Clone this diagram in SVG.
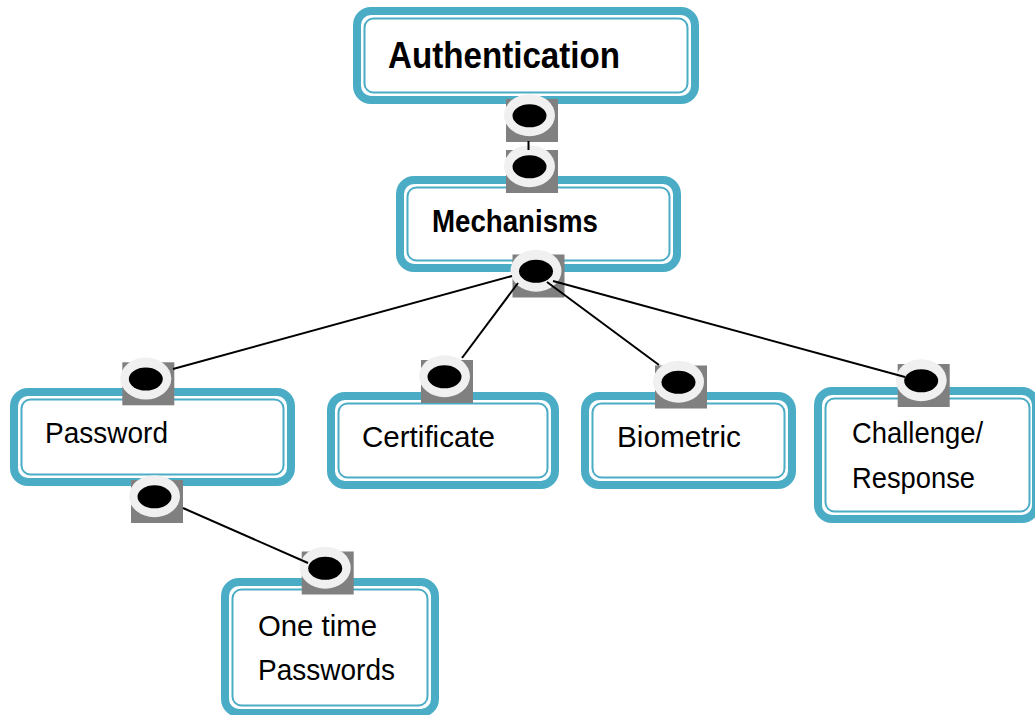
<svg xmlns="http://www.w3.org/2000/svg" width="1035" height="715" viewBox="0 0 1035 715">
  <style>
    .frame { fill: #ffffff; stroke: #4bacc6; stroke-width: 8; }
    .rule { fill: none; stroke: #4bacc6; stroke-width: 2; }
    .title { font-family: "Liberation Sans", Arial, sans-serif; font-weight: bold; fill: #000000; }
    .label { font-family: "Liberation Sans", Arial, sans-serif; font-size: 29px; fill: #000000; }
    .link { stroke: #000000; stroke-width: 2; fill: none; }
  </style>
  <defs>
    <!-- port: grey square with a ringed black dot -->
    <g id="port">
      <rect x="0" y="0" width="52" height="43" fill="#808080"/>
      <ellipse cx="23.5" cy="16.2" rx="25.5" ry="21" fill="#f0f0f0"/>
      <ellipse cx="23.5" cy="16.8" rx="17" ry="11.5" fill="#000000"/>
    </g>
  </defs>

  <rect width="1035" height="715" fill="#ffffff"/>

  <g id="authentication">
    <rect class="frame" x="357" y="11" width="338" height="89" rx="14"/>
    <rect class="rule" x="364.5" y="18.5" width="323" height="74" rx="9"/>
    <text class="title" x="388" y="68" font-size="36" textLength="232" lengthAdjust="spacingAndGlyphs">Authentication</text>
    <use href="#port" x="506" y="99"/>
  </g>

  <g id="mechanisms">
    <rect class="frame" x="400" y="180" width="277" height="88" rx="14"/>
    <rect class="rule" x="407.5" y="187.5" width="262" height="73" rx="9"/>
    <text class="title" x="432" y="232" font-size="31" textLength="166" lengthAdjust="spacingAndGlyphs">Mechanisms</text>
    <use href="#port" x="506" y="150"/>
    <use href="#port" x="512.5" y="254.5"/>
  </g>

  <g id="password">
    <rect class="frame" x="14" y="392" width="277" height="90" rx="14"/>
    <rect class="rule" x="21.5" y="399.5" width="262" height="75" rx="9"/>
    <text class="label" x="45" y="443" textLength="123" lengthAdjust="spacingAndGlyphs">Password</text>
    <use href="#port" x="122.3" y="362.3"/>
    <use href="#port" x="131" y="480"/>
  </g>

  <g id="certificate">
    <rect class="frame" x="331" y="396" width="224" height="89" rx="14"/>
    <rect class="rule" x="338.5" y="403.5" width="209" height="74" rx="9"/>
    <text class="label" x="362" y="447" textLength="133" lengthAdjust="spacingAndGlyphs">Certificate</text>
    <use href="#port" x="421" y="360"/>
  </g>

  <g id="biometric">
    <rect class="frame" x="585" y="396" width="207" height="89" rx="14"/>
    <rect class="rule" x="592.5" y="403.5" width="192" height="74" rx="9"/>
    <text class="label" x="617" y="447" textLength="124" lengthAdjust="spacingAndGlyphs">Biometric</text>
    <use href="#port" x="655" y="365.5"/>
  </g>

  <g id="challenge-response">
    <rect class="frame" x="818" y="391" width="218" height="128" rx="14"/>
    <rect class="rule" x="825.5" y="398.5" width="204" height="113" rx="9"/>
    <text class="label" x="852" y="443" textLength="131" lengthAdjust="spacingAndGlyphs">Challenge/</text>
    <text class="label" x="852" y="488" textLength="123" lengthAdjust="spacingAndGlyphs">Response</text>
    <use href="#port" x="897.7" y="364"/>
  </g>

  <g id="one-time-passwords">
    <rect class="frame" x="225" y="582" width="210" height="131" rx="14"/>
    <rect class="rule" x="232.5" y="589.5" width="195" height="116" rx="9"/>
    <text class="label" x="258" y="636" textLength="119" lengthAdjust="spacingAndGlyphs">One time</text>
    <text class="label" x="258" y="680" textLength="137" lengthAdjust="spacingAndGlyphs">Passwords</text>
    <use href="#port" x="301.7" y="551.5"/>
  </g>

  <g id="connectors">
    <line class="link" x1="528.5" y1="141" x2="528.5" y2="150"/>
    <line class="link" x1="512" y1="276" x2="173" y2="369"/>
    <line class="link" x1="518" y1="283" x2="462" y2="358"/>
    <line class="link" x1="547" y1="282" x2="659" y2="365"/>
    <line class="link" x1="553" y1="281" x2="905" y2="377"/>
    <line class="link" x1="183" y1="508" x2="308" y2="563"/>
  </g>
</svg>
